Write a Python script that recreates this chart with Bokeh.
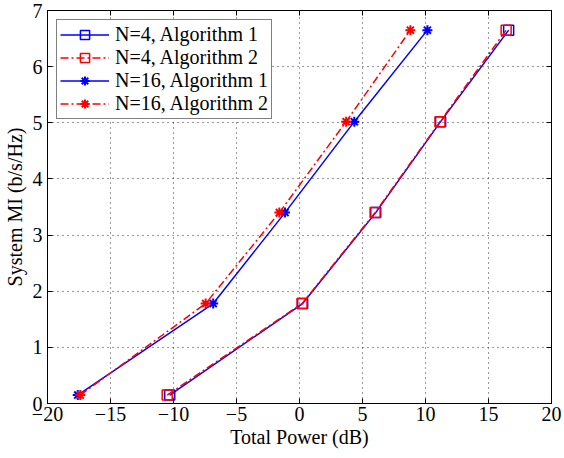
from bokeh.plotting import figure
from bokeh.models import LinearAxis, Range1d, FixedTicker, Legend, LegendItem
from bokeh.embed import file_html
from bokeh.resources import INLINE

# ---- data ----
system_mi = [0.15, 1.78, 3.40, 5.02, 6.65]
n4_alg1 = [-10.3, 0.25, 6.05, 11.2, 16.6]
n4_alg2 = [-10.5, 0.2, 6.0, 11.15, 16.4]
n16_alg1 = [-17.6, -6.85, -1.15, 4.35, 10.15]
n16_alg2 = [-17.4, -7.45, -1.6, 3.7, 8.8]

x_ticks = [-20, -15, -10, -5, 0, 5, 10, 15, 20]
x_tick_labels = ["\u221220", "\u221215", "\u221210", "\u22125", "0", "5", "10", "15", "20"]
y_ticks = [0, 1, 2, 3, 4, 5, 6, 7]
y_tick_labels = ["0", "1", "2", "3", "4", "5", "6", "7"]

series_labels = ["N=4, Algorithm 1", "N=4, Algorithm 2", "N=16, Algorithm 1", "N=16, Algorithm 2"]

FONT = "Liberation Serif"
BLUE = "#0000FF"
RED = "#FF0000"

p = figure(
    output_backend="svg", toolbar_location=None,
    frame_width=504, frame_height=393,
    min_border_left=41, min_border_top=10, min_border_right=11, min_border_bottom=47,
    x_range=Range1d(-20, 20), y_range=Range1d(0, 7),
    x_axis_label="Total Power (dB)", y_axis_label="System MI (b/s/Hz)",
)
p.background_fill_color = "white"
p.border_fill_color = "white"
p.outline_line_color = "black"
p.outline_line_width = 1

for ax, ticks, labels in ((p.xaxis[0], x_ticks, x_tick_labels), (p.yaxis[0], y_ticks, y_tick_labels)):
    ax.ticker = FixedTicker(ticks=ticks)
    ax.major_label_overrides = {t: l for t, l in zip(ticks, labels)}
    ax.major_tick_in = 5
    ax.major_tick_out = 0
    ax.minor_tick_in = 0
    ax.minor_tick_out = 0
    ax.axis_line_color = "black"
    ax.major_tick_line_color = "black"
    ax.major_label_text_font = FONT
    ax.major_label_text_font_size = "20px"
    ax.major_label_text_color = "black"
    ax.axis_label_text_font = FONT
    ax.axis_label_text_font_size = "20px"
    ax.axis_label_text_font_style = "normal"
    ax.axis_label_text_color = "black"
    ax.major_label_standoff = 3
    ax.axis_label_standoff = 2

p.yaxis[0].major_label_standoff = 5
p.yaxis[0].axis_label_standoff = 4

top = LinearAxis(ticker=FixedTicker(ticks=x_ticks), major_label_text_font_size="0px",
                 major_tick_in=5, major_tick_out=0, minor_tick_in=0, minor_tick_out=0,
                 axis_line_color="black", major_label_standoff=0)
right = LinearAxis(ticker=FixedTicker(ticks=y_ticks), major_label_text_font_size="0px",
                   major_tick_in=5, major_tick_out=0, minor_tick_in=0, minor_tick_out=0,
                   axis_line_color="black", major_label_standoff=0)
top.major_label_overrides = {t: "" for t in x_ticks}
right.major_label_overrides = {t: "" for t in y_ticks}
p.add_layout(top, "above")
p.add_layout(right, "right")

p.xgrid.ticker = FixedTicker(ticks=x_ticks)
p.ygrid.ticker = FixedTicker(ticks=y_ticks)
for g in (p.xgrid[0], p.ygrid[0]):
    g.grid_line_color = "black"
    g.grid_line_dash = "1 4"
    g.grid_line_width = 1
    g.grid_line_alpha = 0.8

items = []
specs = [
    (BLUE, "solid", "square"),
    (RED, "8 3 2 3", "square"),
    (BLUE, "solid", "asterisk"),
    (RED, "8 3 2 3", "asterisk"),
]
for xs, label, (color, dash, marker) in zip([n4_alg1, n4_alg2, n16_alg1, n16_alg2], series_labels, specs):
    r1 = p.line(xs, system_mi, line_color=color, line_width=1.5, line_dash=dash)
    if marker == "square":
        r2 = p.scatter(xs, system_mi, marker="square", size=10, fill_color=None,
                       line_color=color, line_width=1.5)
    else:
        r2 = p.scatter(xs, system_mi, marker="asterisk", size=10, line_color=color, line_width=2)
    items.append(LegendItem(label=label, renderers=[r1, r2]))

legend = Legend(items=items, location="top_left")
legend.margin = 9
legend.padding = 3
legend.spacing = 0
legend.label_height = 23
legend.glyph_height = 23
legend.glyph_width = 49
legend.label_standoff = 6
legend.label_text_font = FONT
legend.label_text_font_size = "20px"
legend.label_text_color = "black"
legend.border_line_color = "black"
legend.border_line_width = 1
legend.background_fill_color = "white"
legend.background_fill_alpha = 1
p.add_layout(legend, "center")

open("out.html", "w").write(file_html(p, INLINE))
